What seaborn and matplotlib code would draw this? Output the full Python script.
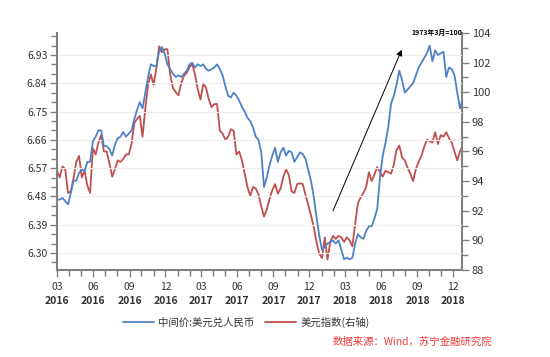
import numpy as np
import pandas as pd
import seaborn as sns
import matplotlib.pyplot as plt
import matplotlib.dates as mdates
from matplotlib.ticker import MultipleLocator, FormatStrFormatter

# weekly readings, Mar 2016 - Dec 2018
start = "2016-03-01"
cny_mid = [
    6.47, 6.47, 6.475, 6.465, 6.455, 6.49, 6.53, 6.53, 6.555, 6.565,
    6.56, 6.59, 6.59, 6.655, 6.67, 6.69, 6.69, 6.64, 6.64, 6.63,
    6.61, 6.645, 6.665, 6.67, 6.685, 6.67, 6.68, 6.69, 6.725, 6.755,
    6.78, 6.76, 6.81, 6.86, 6.90, 6.895, 6.895, 6.94, 6.955, 6.935,
    6.90, 6.885, 6.87, 6.86, 6.865, 6.86, 6.87, 6.88, 6.90, 6.905,
    6.89, 6.90, 6.895, 6.90, 6.885, 6.88, 6.885, 6.89, 6.90, 6.885,
    6.865, 6.83, 6.80, 6.795, 6.81, 6.80, 6.785, 6.765, 6.75, 6.73,
    6.72, 6.70, 6.67, 6.66, 6.62, 6.51, 6.54, 6.58, 6.61, 6.635,
    6.59, 6.62, 6.635, 6.61, 6.625, 6.62, 6.59, 6.605, 6.62, 6.615,
    6.60, 6.565, 6.53, 6.48, 6.415, 6.355, 6.31, 6.32, 6.33, 6.335,
    6.34, 6.33, 6.34, 6.31, 6.28, 6.285, 6.28, 6.285, 6.33, 6.36,
    6.35, 6.345, 6.37, 6.385, 6.385, 6.41, 6.44, 6.54, 6.61, 6.65,
    6.70, 6.775, 6.80, 6.835, 6.88, 6.85, 6.81, 6.82, 6.83, 6.84,
    6.865, 6.89, 6.905, 6.92, 6.935, 6.96, 6.91, 6.945, 6.93, 6.935,
    6.94, 6.86, 6.89, 6.885, 6.865, 6.81, 6.76, 6.79,
]
usd_index = [
    94.7, 94.25, 95.0, 94.8, 93.2, 93.3, 94.2, 95.3, 95.7, 94.25,
    94.7, 93.7, 93.2, 96.2, 95.8, 96.6, 97.1, 96.0, 96.0, 95.2,
    94.3, 94.8, 95.4, 95.3, 95.5, 95.8, 95.8, 96.5, 97.9, 98.2,
    98.4, 97.0, 98.9, 100.5, 101.2, 100.5, 101.6, 103.1, 102.7, 102.9,
    102.9, 101.2, 100.3, 100.0, 99.8, 100.6, 101.1, 101.3, 101.7, 101.9,
    101.2, 100.2, 99.5, 100.6, 100.3, 99.5, 99.0, 99.2, 99.2, 97.4,
    97.2, 96.8, 97.0, 97.5, 97.4, 95.8, 96.0, 95.4, 94.5, 93.6,
    93.0, 93.6, 93.5, 93.1, 92.3, 91.6, 92.1, 92.8, 93.4, 93.8,
    93.15, 93.5, 94.3, 94.8, 94.4, 93.3, 93.2, 93.8, 93.85, 93.8,
    93.1, 92.4, 91.7, 90.9, 89.9, 89.1, 88.8, 90.2, 88.7, 89.9,
    90.3, 90.1, 90.3, 90.2, 89.9, 90.2, 90.0, 89.6, 91.1, 92.5,
    92.9, 93.2, 93.6, 94.6, 94.0, 94.45, 94.95, 94.6, 94.3, 94.7,
    94.6, 94.5, 95.1, 96.1, 96.4, 95.6, 95.4, 94.9, 94.5, 94.0,
    94.8, 95.3, 95.7, 96.3, 96.8, 96.7, 96.6, 97.3, 96.5, 97.1,
    97.0, 97.3, 96.9, 96.6, 96.0, 95.4, 96.0, 96.4,
]
dates = pd.date_range(start, periods=len(cny_mid), freq="7D")
df = pd.DataFrame({"date": dates, "cny": cny_mid, "dxy": usd_index})

label_cny = "中间价:美元兑人民币"
label_dxy = "美元指数(右轴)"
source = "数据来源：Wind，苏宁金融研究院"
base_note = "1973年3月=100"

blue = "#4f81c7"
red = "#c0504d"
axis_grey = "#808080"
text_col = "#333333"

sns.set_theme(style="white")
plt.rcParams["font.family"] = ["Noto Sans CJK SC", "DejaVu Sans"]

fig = plt.figure(figsize=(5.5, 3.57), dpi=100)
ax = fig.add_axes([0.1036, 0.2437, 0.7364, 0.664])
ax2 = ax.twinx()

sns.lineplot(data=df, x="date", y="cny", ax=ax, color=blue, linewidth=1.3, label=label_cny, legend=False)
sns.lineplot(data=df, x="date", y="dxy", ax=ax2, color=red, linewidth=1.3, label=label_dxy, legend=False)
ax.set_zorder(ax2.get_zorder() + 1)
ax.patch.set_visible(False)

ax.set_xlim(pd.Timestamp("2016-03-01"), pd.Timestamp("2018-12-23"))
ax.set_ylim(6.246, 7.0)
ax2.set_ylim(88, 104)

ax.yaxis.set_major_locator(MultipleLocator(0.09))
ax.yaxis.set_major_formatter(FormatStrFormatter("%.2f"))
ax.set_yticks(np.arange(6.30, 6.95, 0.09))
ax.yaxis.set_minor_locator(MultipleLocator(0.03))
ax2.yaxis.set_major_locator(MultipleLocator(2))
ax2.yaxis.set_minor_locator(MultipleLocator(1))

ax.xaxis.set_major_locator(mdates.MonthLocator(bymonth=[3, 6, 9, 12]))
ax.xaxis.set_major_formatter(mdates.DateFormatter("%m"))
ax.xaxis.set_minor_locator(mdates.MonthLocator())

ax.grid(axis="y", color="#eeeeee", linewidth=0.8)
ax.set_xlabel("")
ax.set_ylabel("")
ax2.set_ylabel("")

for a in (ax, ax2):
    for s in a.spines.values():
        s.set_visible(False)
ax.spines["left"].set_visible(True)
ax.spines["bottom"].set_visible(True)
ax2.spines["right"].set_visible(True)
for s in (ax.spines["left"], ax.spines["bottom"], ax2.spines["right"]):
    s.set_color(axis_grey)
    s.set_linewidth(1.5)

ax.tick_params(axis="both", which="both", direction="out", color=axis_grey, width=1.0)
ax.tick_params(axis="both", which="major", length=5, labelsize=7.5, labelcolor=text_col, pad=2)
ax.tick_params(axis="both", which="minor", length=4)
ax.tick_params(axis="x", which="both", bottom=True, pad=4)
ax.tick_params(axis="y", which="both", left=True)
ax2.tick_params(axis="y", which="both", right=True, direction="out", color=axis_grey, width=1.0)
ax2.tick_params(axis="y", which="major", length=5, labelsize=8, labelcolor=text_col, pad=2)
ax2.tick_params(axis="y", which="minor", length=4)

# year row under the month labels
for d in pd.date_range("2016-03-01", "2018-12-01", freq="QS-MAR"):
    ax.text(d, -0.13, d.strftime("%Y"), transform=ax.get_xaxis_transform(),
            ha="center", va="center", fontsize=7.5, fontweight="bold", color=text_col)

ax.annotate("", xy=(pd.Timestamp("2018-07-26"), 6.955), xytext=(pd.Timestamp("2018-01-27"), 6.426),
            arrowprops=dict(arrowstyle="-|>", color="black", lw=0.7, mutation_scale=9))
ax2.text(1.0, 1.0, base_note, transform=ax2.transAxes, ha="right", va="center",
         fontsize=5, fontweight="bold", color="black")

h1, l1 = ax.get_legend_handles_labels()
h2, l2 = ax2.get_legend_handles_labels()
fig.legend(h1 + h2, l1 + l2, loc="center", bbox_to_anchor=(0.448, 0.098), ncol=2,
           frameon=False, fontsize=7.5, handlelength=3.0, columnspacing=1.0,
           handletextpad=0.4, labelcolor=text_col)

fig.text(0.895, 0.042, source, ha="right", va="center", fontsize=7.5, color="#f03c3c", style="italic")

fig.savefig("out.png", dpi=100)
